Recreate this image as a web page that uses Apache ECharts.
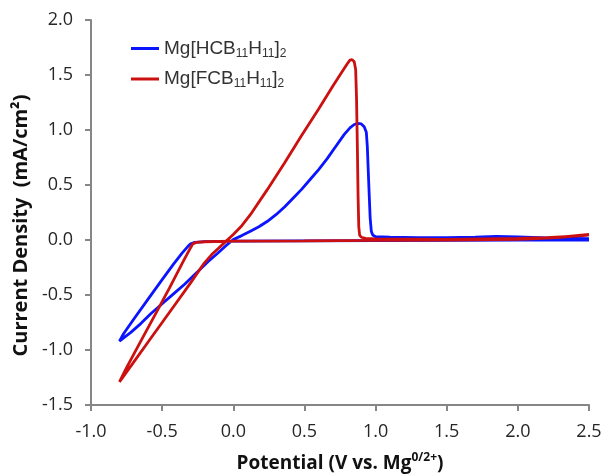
<!DOCTYPE html>
<html>
<head>
<meta charset="utf-8">
<script src="https://cdn.jsdelivr.net/npm/echarts@6/dist/echarts.min.js"></script>
<style>html,body{margin:0;padding:0;background:#fff;}#c{width:607px;height:476px;}</style>
</head>
<body>
<div id="c"></div>
<script>
// Axis ticks
var xTicks = [-1.0, -0.5, 0.0, 0.5, 1.0, 1.5, 2.0, 2.5];
var yTicks = [-1.5, -1.0, -0.5, 0.0, 0.5, 1.0, 1.5, 2.0];

// Series names
var seriesNames = ['Mg[HCB11H11]2', 'Mg[FCB11H11]2'];

// Mg[HCB11H11]2 (blue): potential (V) and current density (mA/cm2), in scan order
var blueV = [2.5, 2.0, 1.5, 1.0, 0.5, 0.0, -0.2, -0.27, -0.3, -0.32, -0.36, -0.42, -0.5, -0.6, -0.7, -0.77, -0.8,
  -0.79, -0.72, -0.65, -0.58, -0.5, -0.42, -0.34, -0.26, -0.18, -0.11, -0.05, 0.0, 0.06, 0.12, 0.18, 0.24, 0.3, 0.36,
  0.42, 0.48, 0.54, 0.6, 0.66, 0.72, 0.78, 0.82, 0.85, 0.875, 0.9, 0.92, 0.935, 0.942, 0.948, 0.955, 0.962, 0.97,
  0.98, 1.0, 1.1, 1.3, 1.5, 1.7, 1.85, 2.0, 2.2, 2.5];
var blueI = [0.0, -0.002, -0.004, -0.006, -0.008, -0.01, -0.015, -0.022, -0.035, -0.06, -0.12, -0.22, -0.36, -0.54, -0.72, -0.85, -0.92,
  -0.92, -0.84, -0.76, -0.67, -0.58, -0.49, -0.40, -0.30, -0.20, -0.12, -0.05, 0.005, 0.04, 0.08, 0.12, 0.17, 0.23, 0.30,
  0.38, 0.46, 0.55, 0.64, 0.74, 0.85, 0.96, 1.02, 1.05, 1.06, 1.055, 1.03, 0.98, 0.85, 0.65, 0.42, 0.2, 0.08,
  0.045, 0.03, 0.025, 0.022, 0.022, 0.025, 0.032, 0.028, 0.02, 0.012];

// Mg[FCB11H11]2 (red): potential (V) and current density (mA/cm2), in scan order
var redV = [2.5, 2.3, 2.1, 2.0, 1.5, 1.0, 0.5, 0.0, -0.2, -0.26, -0.285, -0.3, -0.35, -0.45, -0.55, -0.65, -0.75, -0.8,
  -0.79, -0.7, -0.6, -0.5, -0.4, -0.3, -0.21, -0.15, -0.1, -0.05, 0.0, 0.06, 0.12, 0.24, 0.36, 0.48, 0.6, 0.7, 0.76,
  0.8, 0.82, 0.835, 0.85, 0.86, 0.866, 0.872, 0.877, 0.882, 0.888, 0.9, 0.93, 1.0, 1.5, 2.0, 2.2, 2.4, 2.5];
var redI = [0.05, 0.025, 0.01, 0.006, 0.0, -0.004, -0.008, -0.01, -0.016, -0.022, -0.035, -0.07, -0.19, -0.44, -0.68, -0.92, -1.16, -1.29,
  -1.29, -1.11, -0.93, -0.75, -0.57, -0.39, -0.22, -0.13, -0.07, -0.01, 0.05, 0.13, 0.23, 0.46, 0.70, 0.95, 1.19, 1.40, 1.52,
  1.6, 1.635, 1.64, 1.62, 1.55, 1.3, 0.85, 0.4, 0.12, 0.045, 0.025, 0.015, 0.01, 0.006, 0.015, 0.022, 0.035, 0.045];

function zip(a, b) { var out = []; for (var i = 0; i < a.length; i++) out.push([a[i], b[i]]); return out; }

var chart = echarts.init(document.getElementById('c'));
var axisGray = '#868686';
var labelFont = 'Open Sans';
chart.setOption({
  animation: false,
  backgroundColor: '#ffffff',
  grid: { left: 91, right: 18, top: 20, bottom: 71, containLabel: false, outerBoundsMode: 'none' },
  legend: {
    orient: 'vertical',
    left: 126,
    top: 34,
    icon: 'rect',
    itemWidth: 28,
    itemHeight: 3,
    itemGap: 10,
    data: seriesNames,
    formatter: function (name) {
      var lead = name === seriesNames[0] ? 'Mg[HCB' : 'Mg[FCB';
      return '{m|' + lead + '}{s|11}{m|H}{s|11}{m|]}{s|2}';
    },
    textStyle: {
      color: '#333333',
      rich: {
        m: { fontSize: 19, fontFamily: 'Liberation Sans', color: '#333333', lineHeight: 22 },
        s: { fontSize: 12, fontFamily: 'Liberation Sans', color: '#333333', lineHeight: 12, verticalAlign: 'bottom', padding: [6, 0, 0, 0] }
      }
    }
  },
  xAxis: {
    type: 'value',
    min: -1.0, max: 2.5, interval: 0.5,
    axisLine: { show: true, onZero: false, lineStyle: { color: axisGray, width: 2 } },
    axisTick: { show: true, inside: false, length: 6, lineStyle: { color: axisGray, width: 2 } },
    splitLine: { show: false },
    axisLabel: {
      margin: 18, fontSize: 18, fontFamily: labelFont, color: '#262626',
      formatter: function (v) { return v.toFixed(1); }
    },
    name: '{b|Potential (V vs. Mg}{sup|0/2+}{b|)}',
    nameLocation: 'middle',
    nameGap: 47,
    nameTextStyle: {
      rich: {
        b: { fontSize: 19, fontWeight: 'bold', fontFamily: labelFont, color: '#111111', lineHeight: 24 },
        sup: { fontSize: 12, fontWeight: 'bold', fontFamily: labelFont, color: '#111111', verticalAlign: 'top', lineHeight: 24, padding: [0, 0, 8, 0] }
      }
    }
  },
  yAxis: {
    type: 'value',
    min: -1.5, max: 2.0, interval: 0.5,
    axisLine: { show: true, onZero: false, lineStyle: { color: axisGray, width: 2 } },
    axisTick: { show: true, inside: false, length: 6, lineStyle: { color: axisGray, width: 2 } },
    splitLine: { show: false },
    axisLabel: {
      margin: 18, fontSize: 18, fontFamily: labelFont, color: '#262626',
      formatter: function (v) { return v.toFixed(1); }
    },
    name: 'Current Density  (mA/cm\u00b2)',
    nameLocation: 'middle',
    nameGap: 54,
    nameTextStyle: { fontSize: 20, fontWeight: 'bold', fontFamily: labelFont, color: '#111111', padding: [0, 26, 0, 0] }
  },
  series: [
    {
      name: seriesNames[0], type: 'line', data: zip(blueV, blueI),
      symbol: 'none', smooth: false, clip: false,
      lineStyle: { color: '#0a14ff', width: 2.8 }, itemStyle: { color: '#0a14ff' }
    },
    {
      name: seriesNames[1], type: 'line', data: zip(redV, redI),
      symbol: 'none', smooth: false, clip: false,
      lineStyle: { color: '#cc1010', width: 2.8 }, itemStyle: { color: '#cc1010' }
    }
  ]
});
</script>
</body>
</html>
